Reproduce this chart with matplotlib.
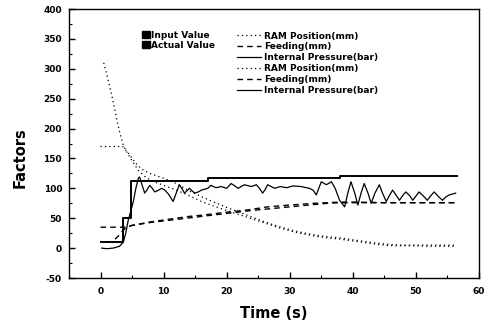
import matplotlib
matplotlib.use("Agg")
import matplotlib.pyplot as plt
from matplotlib.patches import Patch
from matplotlib.lines import Line2D
from matplotlib.ticker import MultipleLocator

plt.rcParams['font.family'] = ['DejaVu Sans']
plt.rcParams['font.weight'] = 'bold'
plt.rcParams['axes.unicode_minus'] = False

# ---- data ----
# Input internal pressure (step)
t_press_in = [0, 3.5, 4.8, 17, 38, 56.5]
v_press_in = [10, 50, 113, 118, 121, 121]

# Actual internal pressure
t_press_act = [0.2, 1, 2, 3, 3.6, 4.0, 4.4, 4.8, 5.2, 5.6, 6.0, 6.2, 6.6, 7.0, 7.4, 7.8, 8.2, 8.6,
               9.2, 9.7, 10.2, 10.8, 11.5, 12.0, 12.5, 13.0, 13.3, 14.1, 14.9, 15.5, 16, 17, 17.5,
               18.3, 19.1, 20, 20.7, 21.3, 21.8, 22.8, 23.9, 24.7, 25.2, 25.7, 26.1, 26.5, 27.6,
               28.5, 29.5, 30.5, 31.8, 33.1, 33.7, 34.2, 34.6, 35, 35.8, 36.6, 37.2, 37.9, 38.7,
               39.2, 39.7, 40.3, 40.8, 41.3, 41.8, 42.4, 42.9, 43.5, 44.2, 44.7, 45.3, 45.8, 46.3,
               46.9, 47.4, 47.9, 48.4, 49, 49.5, 50, 50.5, 51.2, 51.8, 52.3, 52.9, 53.5, 54.2,
               54.8, 55.3, 56.3]
v_press_act = [0, -1, 0, 3, 10, 25, 47, 62, 78, 100, 117, 119, 105, 92, 98, 105, 100, 94,
               97, 100, 97, 90, 78, 92, 106, 98, 92, 100, 92, 94, 97, 100, 105,
               101, 103, 100, 108, 104, 100, 106, 103, 106, 100, 92, 98, 106, 100,
               103, 101, 104, 103, 100, 97, 89, 100, 111, 106, 111, 100, 80, 69,
               92, 111, 92, 72, 92, 108, 92, 75, 92, 106, 92, 78, 88, 97,
               88, 80, 88, 94, 88, 80, 87, 94, 87, 80, 87, 94, 87, 80,
               86, 89, 92]

# RAM position
t_ram_in = [0, 3.5, 4.5, 5.5, 6.5, 8, 10, 12, 14, 16, 18, 20, 22, 24, 26, 28, 30, 32, 34, 36,
            38, 40, 42, 44, 46, 48, 50, 52, 54, 56.3]
v_ram_in = [170, 170, 158, 143, 132, 124, 117, 108, 96, 86, 77, 68, 60, 52, 44, 37, 31, 26, 22, 19,
            17, 14, 11, 8, 6, 5, 5, 5, 5, 5]
t_ram_act = [0.5, 1, 1.5, 2, 2.5, 3, 3.6, 4.2, 5, 6, 7, 8, 10, 12, 14, 16, 18, 20, 22, 24, 26,
             28, 30, 32, 34, 36, 38, 40, 42, 44, 46, 48, 50, 52, 54, 56.3]
v_ram_act = [310, 290, 268, 245, 220, 195, 172, 160, 146, 130, 120, 113, 105, 97, 88, 78, 70, 63,
             56, 49, 42, 35, 29, 24, 20, 17, 15, 12, 9, 6, 4, 4, 4, 3, 3, 3]

# Feeding
t_feed_in = [0, 3.8, 5, 8, 12, 16, 20, 24, 28, 32, 36, 38, 56.3]
v_feed_in = [35, 35, 38, 43, 48, 53, 58, 63, 67, 71, 75, 76, 76]
t_feed_act = [2.3, 3, 3.6, 4.2, 5, 6, 8, 10, 12, 14, 16, 20, 23.4, 26.5, 30, 34, 38, 40, 45, 50, 56.3]
v_feed_act = [15, 22, 30, 35, 38, 40, 44, 47, 50, 53, 55, 60, 64, 69, 72, 75, 77, 77, 76, 76, 76]

x_ticks = [0, 10, 20, 30, 40, 50, 60]
y_ticks = [-50, 0, 50, 100, 150, 200, 250, 300, 350, 400]

# ---- figure ----
fig = plt.figure(figsize=(4.87, 3.24), dpi=100)
ax = fig.add_axes([69/487, 1-278/324, (479-69)/487, (278-9)/324])

dot = (0, (1, 2.5))
dash = (0, (4, 3))
ax.plot(t_ram_in, v_ram_in, color='black', lw=0.9, ls=dot)
ax.plot(t_ram_act, v_ram_act, color='black', lw=0.9, ls=dot)
ax.plot(t_feed_in, v_feed_in, color='black', lw=1.0, ls=dash)
ax.plot(t_feed_act, v_feed_act, color='black', lw=1.0, ls=dash)
ax.plot(t_press_in, v_press_in, color='black', lw=1.4, drawstyle='steps-post')
ax.plot(t_press_act, v_press_act, color='black', lw=0.9)

ax.set_xlim(-5, 60)
ax.set_ylim(-50, 400)
ax.set_xticks(x_ticks)
ax.set_yticks(y_ticks)
ax.xaxis.set_minor_locator(MultipleLocator(5))
ax.yaxis.set_minor_locator(MultipleLocator(25))
ax.tick_params(which='both', direction='in', top=False, right=False, labelsize=6.5)
ax.tick_params(axis='x', pad=6.5)
ax.tick_params(axis='y', pad=5)
ax.tick_params(which='major', length=4, width=1)
ax.tick_params(which='minor', length=2, width=0.8)
for lab in ax.get_xticklabels() + ax.get_yticklabels():
    lab.set_fontweight('bold')
for s in ax.spines.values():
    s.set_linewidth(1.0)

ax.set_xlabel('Time (s)', fontsize=10.5, fontweight='bold', labelpad=7)
ax.set_ylabel('Factors', fontsize=10.5, fontweight='bold')
ax.yaxis.set_label_coords(-0.102, 0.446)

# legends
sq_handles = [Patch(facecolor='black', edgecolor='black'), Patch(facecolor='black', edgecolor='black')]
leg1 = ax.legend(sq_handles, ['Input Value', 'Actual Value'], loc='upper left',
                 bbox_to_anchor=(141.5/487, 1-30.5/324), bbox_transform=fig.transFigure,
                 frameon=False, prop={'size': 6.5, 'weight': 'bold'},
                 handlelength=0.9, handleheight=0.85, handletextpad=0.2, labelspacing=0.15,
                 borderpad=0, borderaxespad=0)
ax.add_artist(leg1)

ln_handles = [Line2D([], [], color='black', lw=0.9, ls=dot),
              Line2D([], [], color='black', lw=1.0, ls=dash),
              Line2D([], [], color='black', lw=0.9),
              Line2D([], [], color='black', lw=0.9, ls=dot),
              Line2D([], [], color='black', lw=1.0, ls=dash),
              Line2D([], [], color='black', lw=0.9)]
ln_labels = ['RAM Position(mm)', 'Feeding(mm)', 'Internal Pressure(bar)',
             'RAM Position(mm)', 'Feeding(mm)', 'Internal Pressure(bar)']
leg2 = ax.legend(ln_handles, ln_labels, loc='upper left',
                 bbox_to_anchor=(237/487, 1-31.5/324), bbox_transform=fig.transFigure,
                 frameon=False, prop={'size': 6.5, 'weight': 'bold'},
                 handlelength=2.67, handletextpad=0.33, labelspacing=0.21,
                 borderpad=0, borderaxespad=0)

fig.savefig('out.png', dpi=100)
